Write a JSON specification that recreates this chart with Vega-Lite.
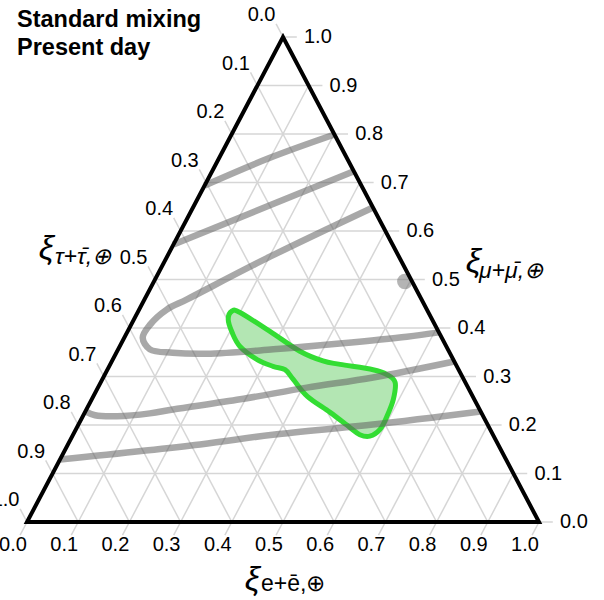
{
  "$schema": "https://vega.github.io/schema/vega-lite/v6.json",
  "width": 512,
  "height": 485,
  "autosize": "none",
  "padding": {"left": 27, "top": 37, "right": 65, "bottom": 78},
  "background": "white",
  "config": {"view": {"stroke": null}, "font": "Liberation Sans", "text": {"font": "Liberation Sans"}},
  "datasets": {
    "grid": [
      {"axis": "e", "v": 0.0}, {"axis": "e", "v": 0.1}, {"axis": "e", "v": 0.2}, {"axis": "e", "v": 0.3}, {"axis": "e", "v": 0.4}, {"axis": "e", "v": 0.5}, {"axis": "e", "v": 0.6}, {"axis": "e", "v": 0.7}, {"axis": "e", "v": 0.8}, {"axis": "e", "v": 0.9}, {"axis": "e", "v": 1.0},
      {"axis": "mu", "v": 0.0}, {"axis": "mu", "v": 0.1}, {"axis": "mu", "v": 0.2}, {"axis": "mu", "v": 0.3}, {"axis": "mu", "v": 0.4}, {"axis": "mu", "v": 0.5}, {"axis": "mu", "v": 0.6}, {"axis": "mu", "v": 0.7}, {"axis": "mu", "v": 0.8}, {"axis": "mu", "v": 0.9}, {"axis": "mu", "v": 1.0},
      {"axis": "tau", "v": 0.0}, {"axis": "tau", "v": 0.1}, {"axis": "tau", "v": 0.2}, {"axis": "tau", "v": 0.3}, {"axis": "tau", "v": 0.4}, {"axis": "tau", "v": 0.5}, {"axis": "tau", "v": 0.6}, {"axis": "tau", "v": 0.7}, {"axis": "tau", "v": 0.8}, {"axis": "tau", "v": 0.9}, {"axis": "tau", "v": 1.0}
    ],
    "vertices": [
      {"i": 1, "e": 0, "mu": 0},
      {"i": 2, "e": 1, "mu": 0},
      {"i": 3, "e": 0, "mu": 1}
    ],
    "curves": [
      {"c": 1, "i": 1, "e": 0.0, "mu": 0.694},
      {"c": 1, "i": 2, "e": 0.099, "mu": 0.751},
      {"c": 1, "i": 3, "e": 0.201, "mu": 0.799},
      {"c": 2, "i": 1, "e": 0.0, "mu": 0.572},
      {"c": 2, "i": 2, "e": 0.148, "mu": 0.653},
      {"c": 2, "i": 3, "e": 0.277, "mu": 0.723},
      {"c": 3, "i": 1, "e": 0.3515, "mu": 0.6485},
      {"c": 3, "i": 2, "e": 0.201, "mu": 0.547},
      {"c": 3, "i": 3, "e": 0.083, "mu": 0.459},
      {"c": 3, "i": 4, "e": 0.054, "mu": 0.438},
      {"c": 3, "i": 5, "e": 0.037, "mu": 0.407},
      {"c": 3, "i": 6, "e": 0.036, "mu": 0.380},
      {"c": 3, "i": 7, "e": 0.062, "mu": 0.356},
      {"c": 3, "i": 8, "e": 0.110, "mu": 0.349},
      {"c": 3, "i": 9, "e": 0.178, "mu": 0.347},
      {"c": 3, "i": 10, "e": 0.303, "mu": 0.356},
      {"c": 3, "i": 11, "e": 0.427, "mu": 0.368},
      {"c": 3, "i": 12, "e": 0.551, "mu": 0.382},
      {"c": 3, "i": 13, "e": 0.609, "mu": 0.391},
      {"c": 4, "i": 1, "e": 0.0, "mu": 0.228},
      {"c": 4, "i": 2, "e": 0.023, "mu": 0.220},
      {"c": 4, "i": 3, "e": 0.067, "mu": 0.218},
      {"c": 4, "i": 4, "e": 0.128, "mu": 0.224},
      {"c": 4, "i": 5, "e": 0.169, "mu": 0.232},
      {"c": 4, "i": 6, "e": 0.290, "mu": 0.253},
      {"c": 4, "i": 7, "e": 0.408, "mu": 0.277},
      {"c": 4, "i": 8, "e": 0.527, "mu": 0.298},
      {"c": 4, "i": 9, "e": 0.669, "mu": 0.331},
      {"c": 5, "i": 1, "e": 0.0, "mu": 0.129},
      {"c": 5, "i": 2, "e": 0.258, "mu": 0.160},
      {"c": 5, "i": 3, "e": 0.390, "mu": 0.180},
      {"c": 5, "i": 4, "e": 0.575, "mu": 0.201},
      {"c": 5, "i": 5, "e": 0.772, "mu": 0.228}
    ],
    "region": [
      {"i": 1, "e": 0.183, "mu": 0.435},
      {"i": 2, "e": 0.200, "mu": 0.432},
      {"i": 3, "e": 0.278, "mu": 0.393},
      {"i": 4, "e": 0.357, "mu": 0.352},
      {"i": 5, "e": 0.412, "mu": 0.332},
      {"i": 6, "e": 0.449, "mu": 0.325},
      {"i": 7, "e": 0.519, "mu": 0.314},
      {"i": 8, "e": 0.551, "mu": 0.304},
      {"i": 9, "e": 0.575, "mu": 0.288},
      {"i": 10, "e": 0.589, "mu": 0.253},
      {"i": 11, "e": 0.594, "mu": 0.218},
      {"i": 12, "e": 0.594, "mu": 0.191},
      {"i": 13, "e": 0.581, "mu": 0.177},
      {"i": 14, "e": 0.560, "mu": 0.180},
      {"i": 15, "e": 0.533, "mu": 0.195},
      {"i": 16, "e": 0.479, "mu": 0.226},
      {"i": 17, "e": 0.418, "mu": 0.259},
      {"i": 18, "e": 0.373, "mu": 0.294},
      {"i": 19, "e": 0.347, "mu": 0.314},
      {"i": 20, "e": 0.320, "mu": 0.321},
      {"i": 21, "e": 0.282, "mu": 0.335},
      {"i": 22, "e": 0.235, "mu": 0.362},
      {"i": 23, "e": 0.205, "mu": 0.391},
      {"i": 24, "e": 0.184, "mu": 0.418}
    ],
    "point": [
      {"e": 0.49, "mu": 0.496}
    ],
    "one": [{}]
  },
  "layer": [
    {
      "data": {"name": "grid"},
      "transform": [
        {"calculate": "datum.axis === 'e' ? datum.v : datum.axis === 'mu' ? 1 - datum.v / 2 : 1 - datum.v", "as": "xa"},
        {"calculate": "datum.axis === 'mu' ? datum.v : 0", "as": "ya"},
        {"calculate": "datum.axis === 'e' ? datum.v + (1 - datum.v) / 2 : datum.axis === 'mu' ? datum.v / 2 : (1 - datum.v) / 2", "as": "xb"},
        {"calculate": "datum.axis === 'mu' ? datum.v : 1 - datum.v", "as": "yb"},
        {"calculate": "datum.axis === 'e' ? datum.v : datum.axis === 'mu' ? 1 - datum.v / 2 : (1 - datum.v) / 2", "as": "bx"},
        {"calculate": "datum.axis === 'e' ? 0 : datum.axis === 'mu' ? datum.v : 1 - datum.v", "as": "by"},
        {"calculate": "datum.axis === 'e' ? datum.v - 0.0135 : datum.axis === 'mu' ? 1 - datum.v / 2 + 0.027 : (1 - datum.v) / 2 - 0.0135", "as": "tx"},
        {"calculate": "datum.axis === 'e' ? -0.027 : datum.axis === 'mu' ? datum.v : 1 - datum.v + 0.027", "as": "ty"}
      ],
      "layer": [
        {
          "mark": {"type": "rule", "stroke": "#d6d6d6", "strokeWidth": 1.5},
          "encoding": {
            "x": {"field": "xa", "type": "quantitative", "scale": {"domain": [0, 1], "nice": false, "zero": false}, "axis": null},
            "y": {"field": "ya", "type": "quantitative", "scale": {"domain": [0, 1], "nice": false, "zero": false}, "axis": null},
            "x2": {"field": "xb"},
            "y2": {"field": "yb"}
          }
        },
        {
          "mark": {"type": "rule", "stroke": "#d6d6d6", "strokeWidth": 1.5},
          "encoding": {
            "x": {"field": "bx", "type": "quantitative", "scale": {"domain": [0, 1], "nice": false, "zero": false}, "axis": null},
            "y": {"field": "by", "type": "quantitative", "scale": {"domain": [0, 1], "nice": false, "zero": false}, "axis": null},
            "x2": {"field": "tx"},
            "y2": {"field": "ty"}
          }
        }
      ]
    },
    {
      "data": {"name": "region"},
      "transform": [
        {"calculate": "datum.e + datum.mu / 2", "as": "x"},
        {"calculate": "datum.mu", "as": "y"}
      ],
      "mark": {"type": "line", "interpolate": "cardinal-closed", "fill": "#b3e6b3", "stroke": "#33dd33", "strokeWidth": 5, "strokeJoin": "round"},
      "encoding": {
        "x": {"field": "x", "type": "quantitative", "scale": {"domain": [0, 1], "nice": false, "zero": false}, "axis": null},
        "y": {"field": "y", "type": "quantitative", "scale": {"domain": [0, 1], "nice": false, "zero": false}, "axis": null},
        "order": {"field": "i", "type": "quantitative"}
      }
    },
    {
      "data": {"name": "curves"},
      "transform": [
        {"calculate": "datum.e + datum.mu / 2", "as": "x"},
        {"calculate": "datum.mu", "as": "y"}
      ],
      "mark": {"type": "line", "interpolate": "catmull-rom", "stroke": "#606060", "strokeOpacity": 0.55, "strokeWidth": 6.5, "strokeCap": "butt"},
      "encoding": {
        "x": {"field": "x", "type": "quantitative", "scale": {"domain": [0, 1], "nice": false, "zero": false}, "axis": null},
        "y": {"field": "y", "type": "quantitative", "scale": {"domain": [0, 1], "nice": false, "zero": false}, "axis": null},
        "detail": {"field": "c", "type": "nominal"},
        "order": {"field": "i", "type": "quantitative"}
      }
    },
    {
      "data": {"name": "point"},
      "transform": [
        {"calculate": "datum.e + datum.mu / 2", "as": "x"},
        {"calculate": "datum.mu", "as": "y"}
      ],
      "mark": {"type": "point", "filled": true, "color": "#777777", "opacity": 0.55, "size": 240},
      "encoding": {
        "x": {"field": "x", "type": "quantitative", "scale": {"domain": [0, 1], "nice": false, "zero": false}, "axis": null},
        "y": {"field": "y", "type": "quantitative", "scale": {"domain": [0, 1], "nice": false, "zero": false}, "axis": null}
      }
    },
    {
      "data": {"name": "vertices"},
      "transform": [
        {"calculate": "datum.e + datum.mu / 2", "as": "x"},
        {"calculate": "datum.mu", "as": "y"}
      ],
      "mark": {"type": "line", "interpolate": "linear-closed", "stroke": "black", "strokeWidth": 4, "strokeJoin": "miter"},
      "encoding": {
        "x": {"field": "x", "type": "quantitative", "scale": {"domain": [0, 1], "nice": false, "zero": false}, "axis": null},
        "y": {"field": "y", "type": "quantitative", "scale": {"domain": [0, 1], "nice": false, "zero": false}, "axis": null},
        "order": {"field": "i", "type": "quantitative"}
      }
    },
    {
      "data": {"name": "grid"},
      "transform": [
        {"calculate": "datum.axis === 'e' ? datum.v : datum.axis === 'mu' ? 1 - datum.v / 2 : (1 - datum.v) / 2", "as": "bx"},
        {"calculate": "datum.axis === 'e' ? 0 : datum.axis === 'mu' ? datum.v : 1 - datum.v", "as": "by"}
      ],
      "layer": [
        {
          "transform": [{"filter": "datum.axis === 'e'"}],
          "mark": {"type": "text", "align": "center", "baseline": "middle", "dx": -14, "dy": 23, "fontSize": 20, "color": "black"},
          "encoding": {
            "x": {"field": "bx", "type": "quantitative", "scale": {"domain": [0, 1], "nice": false, "zero": false}, "axis": null},
            "y": {"field": "by", "type": "quantitative", "scale": {"domain": [0, 1], "nice": false, "zero": false}, "axis": null},
            "text": {"field": "v", "type": "quantitative", "format": ".1f"}
          }
        },
        {
          "transform": [{"filter": "datum.axis === 'mu'"}],
          "mark": {"type": "text", "align": "left", "baseline": "middle", "dx": 21, "dy": 0, "fontSize": 20, "color": "black"},
          "encoding": {
            "x": {"field": "bx", "type": "quantitative", "scale": {"domain": [0, 1], "nice": false, "zero": false}, "axis": null},
            "y": {"field": "by", "type": "quantitative", "scale": {"domain": [0, 1], "nice": false, "zero": false}, "axis": null},
            "text": {"field": "v", "type": "quantitative", "format": ".1f"}
          }
        },
        {
          "transform": [{"filter": "datum.axis === 'tau'"}],
          "mark": {"type": "text", "align": "right", "baseline": "middle", "dx": -7.5, "dy": -22, "fontSize": 20, "color": "black"},
          "encoding": {
            "x": {"field": "bx", "type": "quantitative", "scale": {"domain": [0, 1], "nice": false, "zero": false}, "axis": null},
            "y": {"field": "by", "type": "quantitative", "scale": {"domain": [0, 1], "nice": false, "zero": false}, "axis": null},
            "text": {"field": "v", "type": "quantitative", "format": ".1f"}
          }
        }
      ]
    },
    {
      "data": {"name": "one"},
      "layer": [
        {
          "mark": {"type": "text", "align": "left", "baseline": "alphabetic", "fontSize": 23.5, "fontWeight": "bold", "lineBreak": "\n", "lineHeight": 28, "color": "black"},
          "encoding": {
            "x": {"datum": -0.0195, "type": "quantitative", "scale": {"domain": [0, 1], "nice": false, "zero": false}, "axis": null},
            "y": {"datum": 1.0206, "type": "quantitative", "scale": {"domain": [0, 1], "nice": false, "zero": false}, "axis": null},
            "text": {"value": "Standard mixing\nPresent day"}
          }
        },
        {
          "mark": {"type": "text", "align": "right", "baseline": "middle", "fontSize": 34, "fontStyle": "italic", "color": "black"},
          "encoding": {
            "x": {"datum": 0.8867, "type": "quantitative", "scale": {"domain": [0, 1], "nice": false, "zero": false}, "axis": null},
            "y": {"datum": 0.5351, "type": "quantitative", "scale": {"domain": [0, 1], "nice": false, "zero": false}, "axis": null},
            "text": {"value": "ξ"}
          }
        },
        {
          "mark": {"type": "text", "align": "left", "baseline": "middle", "fontSize": 23, "fontStyle": "italic", "color": "black"},
          "encoding": {
            "x": {"datum": 0.8828, "type": "quantitative", "scale": {"domain": [0, 1], "nice": false, "zero": false}, "axis": null},
            "y": {"datum": 0.5175, "type": "quantitative", "scale": {"domain": [0, 1], "nice": false, "zero": false}, "axis": null},
            "text": {"value": "μ+μ̄,⊕"}
          }
        },
        {
          "mark": {"type": "text", "align": "right", "baseline": "middle", "fontSize": 34, "fontStyle": "italic", "color": "black"},
          "encoding": {
            "x": {"datum": 0.0527, "type": "quantitative", "scale": {"domain": [0, 1], "nice": false, "zero": false}, "axis": null},
            "y": {"datum": 0.5629, "type": "quantitative", "scale": {"domain": [0, 1], "nice": false, "zero": false}, "axis": null},
            "text": {"value": "ξ"}
          }
        },
        {
          "mark": {"type": "text", "align": "left", "baseline": "middle", "fontSize": 23, "fontStyle": "italic", "color": "black"},
          "encoding": {
            "x": {"datum": 0.0547, "type": "quantitative", "scale": {"domain": [0, 1], "nice": false, "zero": false}, "axis": null},
            "y": {"datum": 0.5454, "type": "quantitative", "scale": {"domain": [0, 1], "nice": false, "zero": false}, "axis": null},
            "text": {"value": "τ+τ̄,⊕"}
          }
        },
        {
          "mark": {"type": "text", "align": "right", "baseline": "middle", "fontSize": 34, "fontStyle": "italic", "color": "black"},
          "encoding": {
            "x": {"datum": 0.4551, "type": "quantitative", "scale": {"domain": [0, 1], "nice": false, "zero": false}, "axis": null},
            "y": {"datum": -0.1186, "type": "quantitative", "scale": {"domain": [0, 1], "nice": false, "zero": false}, "axis": null},
            "text": {"value": "ξ"}
          }
        },
        {
          "mark": {"type": "text", "align": "left", "baseline": "middle", "fontSize": 23, "color": "black"},
          "encoding": {
            "x": {"datum": 0.457, "type": "quantitative", "scale": {"domain": [0, 1], "nice": false, "zero": false}, "axis": null},
            "y": {"datum": -0.1278, "type": "quantitative", "scale": {"domain": [0, 1], "nice": false, "zero": false}, "axis": null},
            "text": {"value": "e+ē,⊕"}
          }
        }
      ]
    }
  ]
}
